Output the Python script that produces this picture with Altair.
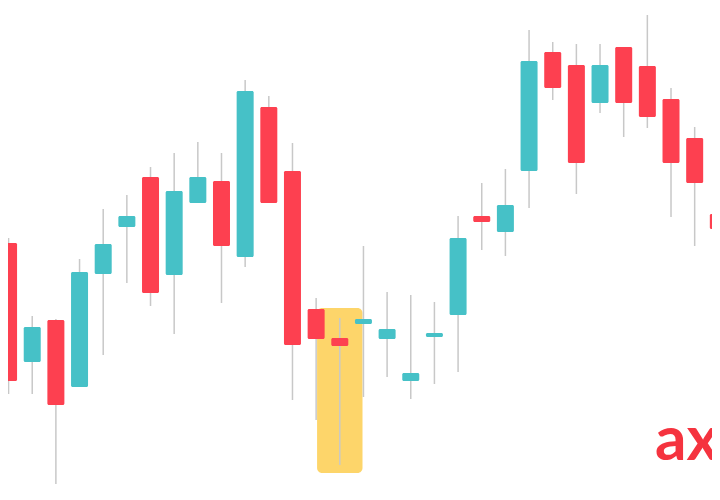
import altair as alt
import pandas as pd

# Candle values (arbitrary price units)
opens  = [51.4, 27.6, 36.0, 22.6, 45.2, 54.6, 64.6, 45.0, 59.4, 63.8,
          48.6, 78.6, 65.8, 38.2, 32.4, 35.2, 32.2, 23.8, 32.6, 37.0,
          56.8, 53.6, 65.8, 89.6, 87.0, 79.4, 90.6, 86.8, 80.2, 72.4, 57.2]
closes = [23.8, 34.6, 19.0, 45.6, 51.2, 56.8, 41.4, 61.8, 64.6, 50.8,
          81.8, 59.4, 31.0, 32.2, 30.8, 36.2, 34.2, 25.4, 33.4, 52.4,
          55.6, 59.0, 87.8, 82.4, 67.4, 87.0, 79.4, 76.6, 67.4, 63.4, 54.2]
highs  = [52.4, 36.8, 36.2, 48.2, 58.2, 61.0, 66.6, 69.4, 71.6, 69.4,
          84.0, 80.8, 71.4, 40.4, 36.4, 50.8, 41.6, 41.0, 39.6, 56.8,
          63.4, 66.2, 94.0, 91.6, 91.2, 91.2, 90.6, 97.0, 82.4, 74.6, 57.2]
lows   = [21.2, 21.2, 3.2, 22.6, 29.0, 43.4, 38.8, 33.2, 59.4, 39.4,
          46.6, 59.4, 20.0, 16.0, 7.0, 20.6, 24.6, 20.2, 23.2, 25.6,
          50.0, 48.8, 58.4, 80.0, 61.2, 77.4, 72.6, 74.4, 56.6, 50.8, 54.2]
idx = list(range(len(opens)))

# Highlighted candle zone
hl_x, hl_x2 = [13.04], [14.96]
hl_y, hl_y2 = [5.4], [38.4]

logo_text = ["ax"]

df = pd.DataFrame({"i": idx, "open": opens, "close": closes,
                   "high": highs, "low": lows})
df["dir"] = ["up" if c >= o else "down" for o, c in zip(opens, closes)]
hl = pd.DataFrame({"x": hl_x, "x2": hl_x2, "y": hl_y, "y2": hl_y2})
logo = pd.DataFrame({"t": logo_text})

xs = alt.Scale(domain=[0.1875, 29.521], nice=False, zero=False)
ys = alt.Scale(domain=[2.4, 98.4], nice=False, zero=False)
col = alt.Color("dir:N", scale=alt.Scale(domain=["up", "down"],
                range=["#46C1C7", "#FD4050"]), legend=None)

highlight = alt.Chart(hl).mark_rect(color="#FDD56A", cornerRadius=5).encode(
    x=alt.X("x:Q", scale=xs, axis=None), x2="x2:Q",
    y=alt.Y("y:Q", scale=ys, axis=None), y2="y2:Q")

wicks = alt.Chart(df).mark_rule(color="#C8C8C8", strokeWidth=1.5).encode(
    x=alt.X("i:Q", scale=xs, axis=None),
    y=alt.Y("low:Q", scale=ys, axis=None), y2="high:Q")

bodies = alt.Chart(df).mark_bar(size=17, cornerRadius=1.5).encode(
    x=alt.X("i:Q", scale=xs, axis=None),
    y=alt.Y("open:Q", scale=ys, axis=None), y2="close:Q",
    color=col)

logo_mark = alt.Chart(logo).mark_text(
    font="Lato", fontWeight="bold", fontSize=62, color="#F5333F",
    align="left", baseline="alphabetic").encode(
    x=alt.value(647), y=alt.value(452), text="t:N")

chart = alt.layer(highlight, wicks, bodies, logo_mark).properties(
    width=704, height=480,
    autosize=alt.AutoSizeParams(type="none"), padding=0,
).configure(background="white", view=alt.ViewConfig(stroke=None))

chart.save("out.html", embed_options={"renderer": "svg", "actions": False})
